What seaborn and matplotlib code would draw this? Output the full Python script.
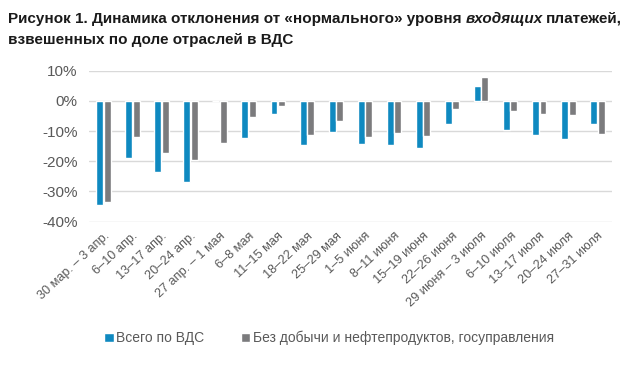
import numpy as np
import pandas as pd
import matplotlib.pyplot as plt
import seaborn as sns
from matplotlib.patches import Patch
from matplotlib.ticker import FuncFormatter

weeks = ['30 мар. – 3 апр.', '6–10 апр.', '13–17 апр.', '20–24 апр.', '27 апр. – 1 мая',
         '6–8 мая', '11–15 мая', '18–22 мая', '25–29 мая', '1–5 июня', '8–11 июня',
         '15–19 июня', '22–26 июня', '29 июня – 3 июля', '6–10 июля', '13–17 июля',
         '20–24 июля', '27–31 июля']
total_vds = [-34.5, -19.0, -23.6, -26.8, -0.1, -12.4, -4.3, -14.5, -10.4, -14.2,
             -14.7, -15.6, -7.5, 4.8, -9.8, -11.2, -12.6, -7.6]
no_mining = [-33.5, -11.9, -17.2, -19.5, -14.0, -5.3, -1.6, -11.3, -6.6, -12.1,
             -10.6, -11.7, -2.6, 7.8, -3.3, -4.5, -4.6, -11.0]
series_names = ['Всего по ВДС', 'Без добычи и нефтепродуктов, госуправления']
colors = ['#0F89C0', '#7B7B7D']

df = pd.DataFrame({
    'week': weeks * 2,
    'value': total_vds + no_mining,
    'series': [series_names[0]] * len(weeks) + [series_names[1]] * len(weeks),
})

sns.set_theme(style='white')
plt.rcParams['font.family'] = ['Liberation Sans', 'DejaVu Sans']

fig = plt.figure(figsize=(6.4, 3.7), dpi=100)
ax = fig.add_axes([0.139, 0.401, 0.817, 0.408])

sns.barplot(data=df, x='week', y='value', hue='series', palette=colors,
            width=0.52, gap=0.08, ax=ax, legend=False, saturation=1)

ax.set_ylim(-40, 10)
ax.set_yticks([-40, -30, -20, -10, 0, 10])
ax.yaxis.set_major_formatter(FuncFormatter(lambda v, p: f'{v:.0f}%'))
ax.grid(axis='y', color='#d9d9d9', linewidth=1)
ax.set_axisbelow(True)
for s in ax.spines.values():
    s.set_visible(False)
ax.set_xlabel('')
ax.set_ylabel('')
ax.tick_params(axis='y', labelsize=11, colors='#595959', length=0, pad=8)
ax.tick_params(axis='x', labelsize=9.2, colors='#595959', length=0, pad=6)
ax.set_xticks(range(len(weeks)))
ax.set_xticklabels(weeks, rotation=43, ha='right', rotation_mode='anchor')
ax.set_xlim(-0.5, len(weeks) - 0.5)

# заголовок: одно слово курсивом
title_kw = dict(fontsize=11, fontweight='bold', ha='left', va='top', color='#1a1a1a')
fig.text(0.012, 0.968, 'Рисунок 1. Динамика отклонения от «нормального» уровня ', **title_kw)
fig.canvas.draw()
bb = fig.texts[-1].get_window_extent()
fig.text(bb.x1 / fig.bbox.width, 0.968, 'входящих', style='italic', **title_kw)
bb2 = fig.texts[-1].get_window_extent()
fig.text(bb2.x1 / fig.bbox.width + 0.005, 0.968, 'платежей,', **title_kw)
fig.text(0.012, 0.912, 'взвешенных по доле отраслей в ВДС', **title_kw)

handles = [Patch(facecolor=c, label=n) for c, n in zip(colors, series_names)]
fig.legend(handles=handles, loc='center', bbox_to_anchor=(0.514, 0.086), ncol=2,
           frameon=False, fontsize=10, handlelength=0.7, handleheight=0.7,
           handletextpad=0.2, columnspacing=2.6, labelcolor='#595959')

fig.savefig('out.png', dpi=100)
